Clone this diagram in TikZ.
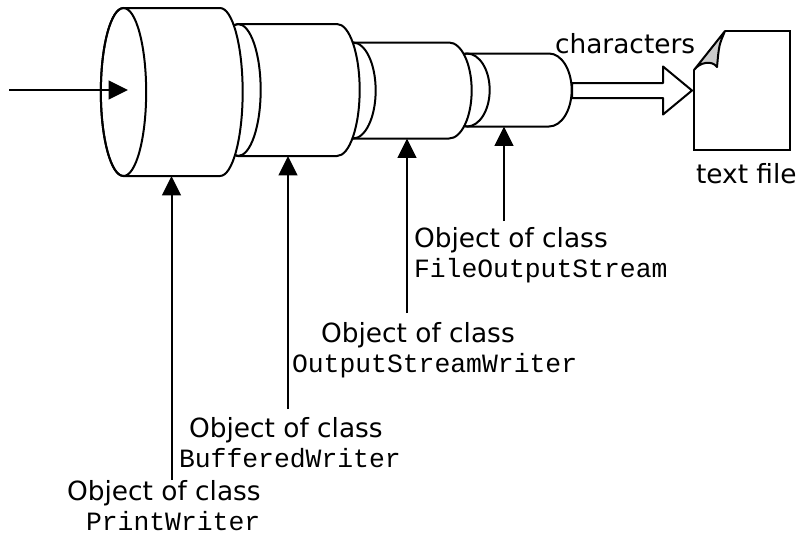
\documentclass[tikz,border=0pt]{standalone}
\usepackage{fontspec}
\setmainfont{DejaVu Sans}
\setmonofont{Liberation Mono}
\usetikzlibrary{arrows.meta}

\begin{document}
\begin{tikzpicture}[x=0.75pt,y=-0.75pt,line width=1.5pt,
  pipe/.style={draw,fill=white,line join=round},
  feed/.style={-{Triangle[length=14.5pt,width=14pt]}},
  objtext/.style={inner sep=0pt,anchor=base west,font=\fontsize{19.8}{24}\selectfont},
  clstext/.style={inner sep=0pt,anchor=base west,font=\fontsize{19.8}{24}\selectfont\ttfamily}]
\useasboundingbox (0,0) rectangle (798,533);
% stream objects, drawn back to front
\foreach \n/\a/\b/\cy/\ry/\x in {fos/467/549/90/36.5/504,osw/353/449/90.5/48/407,bw/238/337/90/66/288,pw/123.5/220/92/84/171.5} {
  \draw[pipe] (\a,\cy-\ry) -- (\b,\cy-\ry) arc[start angle=90,end angle=-90,x radius=17pt,y radius=\ry*0.75pt]
    -- (\a,\cy+\ry) arc[start angle=270,end angle=90,x radius=17pt,y radius=\ry*0.75pt] -- cycle;
  \draw (\a,\cy) ellipse[x radius=17pt,y radius=\ry*0.75pt];
  \coordinate (\n) at (\a,\cy);
  \coordinate (\n-bot) at (\x,\cy+\ry);
}
\coordinate (src) at (9,90);
\coordinate (pw-in) at (128,90);
\draw[feed] (src) -- (pw-in);

% labels under the objects
\foreach \n/\x/\f/\yb/\ox/\cx/\cls in {pw/171.5/480/500/66/85/PrintWriter,bw/288/409/437/188/178/BufferedWriter,osw/407/313/342/320/291/OutputStreamWriter,fos/504/221/247/413/413/FileOutputStream} {
  \node[objtext] (\n-obj) at (\ox,\yb) {Object of class};
  \node[clstext] (\n-cls) at (\cx,\yb+30) {\cls};
  \coordinate (\n-foot) at (\x,\f);
  \draw[feed] (\n-foot) -- (\n-bot);
}

% output into the file
\draw[pipe] (572,83) -- (663,83) -- (663,66.5) -- (692,90.5) -- (663,114.5) -- (663,98) -- (572,98) -- cycle;
\node[objtext] (chars) at (554,53) {characters};
\draw[fill=white] (694,70) -- (694,150) -- (790,150) -- (790,31) -- (725,31);
\draw[fill=gray!40,line join=round] (694,70) -- (725,31) .. controls (719,45) .. (717,67)
  .. controls (712,60) and (700,62) .. (694,70) -- cycle;
\node[objtext] (fname) at (695,183) {text file};
\end{tikzpicture}
\end{document}
